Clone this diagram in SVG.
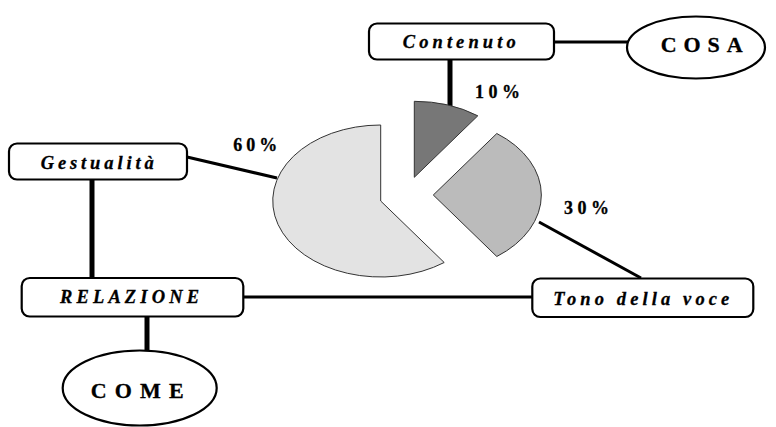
<svg xmlns="http://www.w3.org/2000/svg" width="776" height="427" viewBox="0 0 776 427">
  <style>
    .box { fill: #ffffff; stroke: #000000; stroke-width: 2.2; }
    .oval { fill: #ffffff; stroke: #000000; stroke-width: 2.2; }
    .lbl { font-family: "Liberation Serif", "Times New Roman", serif; font-weight: bold; font-style: italic; font-size: 18.5px; fill: #000000; stroke: #000000; stroke-width: 0.3; }
    .big { font-family: "Liberation Serif", "Times New Roman", serif; font-weight: bold; font-size: 22px; fill: #000000; stroke: #000000; stroke-width: 0.3; }
    .pct { font-family: "Liberation Serif", "Times New Roman", serif; font-weight: bold; font-size: 18px; fill: #000000; stroke: #000000; stroke-width: 0.3; }
    .wire { stroke: #000000; stroke-width: 3; fill: none; }
    .post { stroke: #000000; stroke-width: 5; fill: none; }
    .slice { stroke: #333333; stroke-width: 1; }
  </style>
  <rect width="776" height="427" fill="#ffffff"/>

  <!-- connectors -->
  <g id="connectors">
    <line class="wire" x1="554" y1="42" x2="628" y2="42"/>
    <line class="post" x1="450" y1="59" x2="450" y2="106"/>
    <line class="wire" x1="187" y1="157" x2="277" y2="178"/>
    <line class="post" x1="92" y1="179" x2="92" y2="278"/>
    <line class="post" x1="147" y1="316" x2="147" y2="351"/>
    <line class="wire" x1="243" y1="297" x2="533" y2="297"/>
    <line class="wire" x1="539" y1="222" x2="641" y2="278"/>
  </g>

  <!-- exploded pie -->
  <g id="pie">
    <path class="slice" fill="#e3e3e3" d="M380.7,201 L380.7,125 A108,76 0 1 0 444.2,262.5 Z"/>
    <path class="slice" fill="#777777" d="M414.3,177.3 L414.3,101.3 A108,76 0 0 1 477.8,115.8 Z"/>
    <path class="slice" fill="#bbbbbb" d="M433.3,195 L496.8,133.5 A108,76 0 0 1 496.8,256.5 Z"/>
    <text class="pct" x="475" y="98.3" textLength="45" lengthAdjust="spacing">10%</text>
    <text class="pct" x="233.3" y="151" textLength="44" lengthAdjust="spacing">60%</text>
    <text class="pct" x="564" y="214" textLength="45" lengthAdjust="spacing">30%</text>
  </g>

  <g id="contenuto">
    <rect class="box" x="369" y="23.5" width="185" height="36" rx="8"/>
    <text class="lbl" x="402.7" y="48.3" textLength="113" lengthAdjust="spacing">Contenuto</text>
  </g>

  <g id="cosa">
    <ellipse class="oval" cx="696" cy="47.5" rx="69" ry="31"/>
    <text class="big" x="660.7" y="51.5" textLength="82" lengthAdjust="spacing">COSA</text>
  </g>

  <g id="gestualita">
    <rect class="box" x="9" y="143.5" width="178" height="36" rx="8"/>
    <text class="lbl" x="40.7" y="169.3" textLength="113" lengthAdjust="spacing">Gestualità</text>
  </g>

  <g id="relazione">
    <rect class="box" x="21.7" y="278" width="221.6" height="38.5" rx="8"/>
    <text class="lbl" x="60" y="303.3" font-size="16" textLength="139" lengthAdjust="spacing">RELAZIONE</text>
  </g>

  <g id="tono">
    <rect class="box" x="532.3" y="278.5" width="221" height="38.5" rx="8"/>
    <text class="lbl" x="553.3" y="305" textLength="176" lengthAdjust="spacing">Tono della voce</text>
  </g>

  <g id="come">
    <ellipse class="oval" cx="139.7" cy="388" rx="77" ry="37.5"/>
    <text class="big" x="90.7" y="397.8" textLength="93" lengthAdjust="spacing">COME</text>
  </g>
</svg>
